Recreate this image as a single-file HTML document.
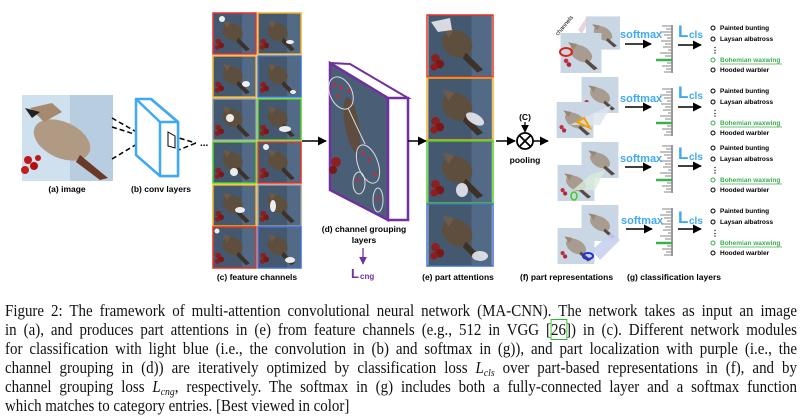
<!DOCTYPE html>
<html><head><meta charset="utf-8"><style>
html,body{margin:0;padding:0;background:#fff;}
body{width:805px;height:416px;position:relative;overflow:hidden;}
svg{position:absolute;left:0;top:0;}
.cap{position:absolute;left:5px;width:900px;transform:scaleX(0.88);transform-origin:0 0;font-family:"Liberation Serif",serif;font-size:17px;line-height:19px;color:#111;text-align:justify;text-align-last:justify;white-space:nowrap;}
.cap i{font-style:italic;}
.cap sub{font-size:11px;vertical-align:-3px;line-height:0;}
</style></head><body>
<svg width="805" height="290" viewBox="0 0 805 290" font-family="Liberation Sans, sans-serif">
<defs>
<symbol id="bd" viewBox="0 0 44 43">
<rect width="44" height="43" fill="#44596f"/>
<rect x="30" y="0" width="14" height="43" fill="#526a86"/>
<ellipse cx="20" cy="20" rx="11" ry="9" fill="#5e4e3e" transform="rotate(30 20 20)"/>
<path d="M10 8 L18 10 L14 16 Z" fill="#6e5a48"/>
<path d="M26 26 L38 38 L34 40 L24 30 Z" fill="#3e3128"/>
<circle cx="5" cy="30" r="3" fill="#8a2020"/><circle cx="8" cy="34" r="3" fill="#7a1818"/><circle cx="4" cy="36" r="2.5" fill="#901c1c"/>
</symbol>
<symbol id="bl" viewBox="0 0 44 43">
<rect width="44" height="43" fill="#c9d6e4"/>
<ellipse cx="22" cy="22" rx="13" ry="8" fill="#a89c90" transform="rotate(30 22 22)"/>
<path d="M8 10 L18 12 L14 18 Z" fill="#9b8674"/>
<path d="M28 28 L40 38 L36 40 L26 31 Z" fill="#5a4a40"/>
<circle cx="6" cy="30" r="2.5" fill="#c03040"/><circle cx="9" cy="34" r="2.5" fill="#b02838"/>
</symbol>
<marker id="ah" viewBox="0 0 10 10" refX="9" refY="5" markerWidth="6" markerHeight="6" orient="auto"><path d="M0 0 L10 5 L0 10 Z" fill="#000"/></marker>
<marker id="ap" viewBox="0 0 10 10" refX="9" refY="5" markerWidth="6" markerHeight="6" orient="auto"><path d="M0 0 L10 5 L0 10 Z" fill="#7030a0"/></marker>
</defs>

<rect x="22" y="95" width="91" height="86" fill="#cfe0ef"/>
<rect x="70" y="95" width="43" height="86" fill="#b8cde0"/>
<ellipse cx="62" cy="140" rx="30" ry="18" fill="#b09a84" transform="rotate(25 62 140)"/>
<path d="M30 108 L52 103 L62 112 L44 122 Z" fill="#a58a70"/>
<path d="M25 108 L40 112 L32 118 Z" fill="#222"/>
<path d="M80 155 L108 178 L100 180 L76 162 Z" fill="#6a3a28"/>
<circle cx="28" cy="160" r="4" fill="#c01818"/><circle cx="34" cy="166" r="4" fill="#b01010"/><circle cx="25" cy="170" r="4" fill="#c02020"/><circle cx="38" cy="158" r="3" fill="#c01818"/>
<text x="67" y="192" font-size="8.5" font-weight="bold" text-anchor="middle">(a) image</text>

<g stroke="#000" stroke-width="1.5" stroke-dasharray="5,3" fill="none">
<line x1="112" y1="118" x2="147" y2="138"/><line x1="112" y1="127" x2="147" y2="138"/><line x1="112" y1="159" x2="147" y2="138"/>
<line x1="172" y1="136" x2="196" y2="143"/><line x1="176" y1="151" x2="196" y2="143"/>
</g>
<g stroke="#3fa9f5" stroke-width="2.5" fill="#fff" stroke-linejoin="round">
<polygon points="136,99 151,99 178,122 178,176 160,176 136,155"/>
<polygon points="160,122 178,122 178,176 160,176"/>
<line x1="151" y1="99" x2="178" y2="122"/><line x1="136" y1="99" x2="160" y2="122"/>
</g>
<polygon points="168,132 175,136 175,148 168,146" fill="none" stroke="#000" stroke-width="1"/>
<text x="200" y="146" font-size="10" font-weight="bold">...</text>
<text x="161" y="192" font-size="8.5" font-weight="bold" text-anchor="middle">(b) conv layers</text>

<g stroke-width="1.5" fill="none">
<use href="#bd" x="213" y="13" width="43" height="41"/><rect x="213" y="13" width="43" height="41" stroke="#e83030"/>
<use href="#bd" x="258" y="13" width="43" height="41"/><rect x="258" y="13" width="43" height="41" stroke="#f0b020"/>
<use href="#bd" x="213" y="56" width="43" height="41"/><rect x="213" y="56" width="43" height="41" stroke="#f0b020"/>
<use href="#bd" x="258" y="56" width="43" height="41"/><rect x="258" y="56" width="43" height="41" stroke="#4070d0"/>
<use href="#bd" x="213" y="99" width="43" height="41"/><rect x="213" y="99" width="43" height="41" stroke="#999"/>
<use href="#bd" x="258" y="99" width="43" height="41"/><rect x="258" y="99" width="43" height="41" stroke="#50d020"/>
<use href="#bd" x="213" y="142" width="43" height="41"/><rect x="213" y="142" width="43" height="41" stroke="#50d020"/>
<use href="#bd" x="258" y="142" width="43" height="41"/><rect x="258" y="142" width="43" height="41" stroke="#e83020"/>
<use href="#bd" x="213" y="185" width="43" height="41"/><rect x="213" y="185" width="43" height="41" stroke="#f0b020"/>
<use href="#bd" x="258" y="185" width="43" height="41"/><rect x="258" y="185" width="43" height="41" stroke="#999"/>
<use href="#bd" x="213" y="227" width="43" height="41"/><rect x="213" y="227" width="43" height="41" stroke="#e83020"/>
<use href="#bd" x="258" y="227" width="43" height="41"/><rect x="258" y="227" width="43" height="41" stroke="#4070d0"/>
</g>
<g fill="#fff" opacity="0.9">
<circle cx="222" cy="19" r="3"/><ellipse cx="290" cy="42" rx="4" ry="2"/><ellipse cx="246" cy="84" rx="4" ry="3"/><ellipse cx="293" cy="92" rx="3" ry="2"/>
<ellipse cx="230" cy="118" rx="4" ry="4"/><ellipse cx="285" cy="129" rx="6" ry="3"/><ellipse cx="234" cy="172" rx="4" ry="4"/><circle cx="266" cy="147" r="3"/>
<ellipse cx="240" cy="210" rx="5" ry="3"/><ellipse cx="273" cy="206" rx="3" ry="6"/><circle cx="217" cy="231" r="2.5"/><ellipse cx="290" cy="260" rx="5" ry="3"/>
</g>
<text x="257" y="280" font-size="8.5" font-weight="bold" text-anchor="middle">(c) feature channels</text>

<line x1="302" y1="141" x2="326" y2="141" stroke="#000" stroke-width="1.5" marker-end="url(#ah)"/>

<polygon points="330,63 350,64 408,98 388,98" fill="#fff" stroke="#7030a0" stroke-width="2"/>
<polygon points="330,63 388,98 388,220 330,190" fill="#4a5f76" stroke="#7030a0" stroke-width="2.5"/>
<ellipse cx="352" cy="125" rx="7" ry="28" fill="#5e4c3e" transform="rotate(-10 352 125)"/>
<circle cx="336" cy="162" r="5" fill="#8a2020"/><circle cx="333" cy="170" r="4" fill="#7a1818"/>
<g fill="none" stroke="#ddd" stroke-width="1">
<ellipse cx="341" cy="93" rx="11" ry="17" transform="rotate(-25 341 93)"/>
<ellipse cx="368" cy="164" rx="10" ry="20" transform="rotate(-20 368 164)"/>
<ellipse cx="359" cy="183" rx="6" ry="11"/>
<ellipse cx="378" cy="200" rx="5" ry="12"/>
<line x1="348" y1="108" x2="365" y2="144"/>
</g>
<g fill="#e02020"><circle cx="335" cy="85" r="1.5"/><circle cx="341" cy="88" r="1.5"/><circle cx="349" cy="91" r="1.5"/><circle cx="338" cy="96" r="1.5"/><circle cx="363" cy="153" r="1.5"/><circle cx="369" cy="160" r="1.5"/><circle cx="375" cy="174" r="1.5"/><circle cx="358" cy="180" r="1.5"/><circle cx="378" cy="198" r="1.5"/></g>
<polygon points="388,98 408,98 408,220 388,220" fill="#fff" stroke="#7030a0" stroke-width="2.5"/>
<text x="364" y="232" font-size="8.5" font-weight="bold" text-anchor="middle">(d) channel grouping</text>
<text x="364" y="243" font-size="8.5" font-weight="bold" text-anchor="middle">layers</text>
<line x1="363" y1="248" x2="363" y2="264" stroke="#7030a0" stroke-width="1.3" marker-end="url(#ap)"/>
<text x="351" y="278" font-size="13" font-weight="bold" fill="#7030a0">L</text><text x="360" y="279" font-size="8" font-weight="bold" fill="#7030a0">cng</text>

<line x1="408" y1="141" x2="426" y2="141" stroke="#000" stroke-width="1.5" marker-end="url(#ah)"/>

<g stroke-width="1.5" fill="none">
<use href="#bd" x="427" y="15" width="66" height="62"/><rect x="427" y="15" width="66" height="62" stroke="#e83020"/>
<use href="#bd" x="427" y="78" width="66" height="62"/><rect x="427" y="78" width="66" height="62" stroke="#f0b020"/>
<use href="#bd" x="427" y="141" width="66" height="62"/><rect x="427" y="141" width="66" height="62" stroke="#50d020"/>
<use href="#bd" x="427" y="204" width="66" height="62"/><rect x="427" y="204" width="66" height="62" stroke="#4070d0"/>
</g>
<g fill="#e8e8f0" opacity="0.9"><path d="M431 22 L450 18 L452 30 L438 32 Z"/><ellipse cx="475" cy="119" rx="10" ry="5" transform="rotate(30 475 119)"/><ellipse cx="462" cy="190" rx="6" ry="7"/><ellipse cx="480" cy="256" rx="8" ry="5"/></g>
<text x="458" y="280" font-size="8.5" font-weight="bold" text-anchor="middle">(e) part attentions</text>

<line x1="496" y1="141" x2="515" y2="141" stroke="#000" stroke-width="1.5" marker-end="url(#ah)"/>
<text x="525" y="120" font-size="8.5" font-weight="bold" text-anchor="middle">(C)</text>
<line x1="525" y1="122" x2="525" y2="132" stroke="#000" stroke-width="1.3" marker-end="url(#ah)"/>
<circle cx="525" cy="141" r="8" fill="#fff" stroke="#000" stroke-width="1.8"/>
<line x1="519.5" y1="135.5" x2="530.5" y2="146.5" stroke="#000" stroke-width="1.8"/><line x1="530.5" y1="135.5" x2="519.5" y2="146.5" stroke="#000" stroke-width="1.8"/>
<line x1="533" y1="141" x2="548" y2="141" stroke="#000" stroke-width="1.5" marker-end="url(#ah)"/>
<text x="525" y="163" font-size="8.5" font-weight="bold" text-anchor="middle">pooling</text>

<use href="#bl" x="586" y="15" width="34" height="36"/>
<polygon points="578,30 586,18 590,18 582,34" fill="#e0c8d8" opacity="0.8"/>
<use href="#bl" x="558" y="33" width="46" height="40"/>
<ellipse cx="566" cy="52" rx="6" ry="4" fill="none" stroke="#e02010" stroke-width="2"/>
<text x="558" y="36" font-size="6" transform="rotate(-50 558 36)">channels</text>
<use href="#bl" x="580" y="77" width="40" height="36"/><use href="#bl" x="555" y="102" width="40" height="36"/>
<polygon points="570,125 585,117 612,105 600,125" fill="#dde4ee" opacity="0.8"/>
<polygon points="577,122 584,118 590,128" fill="none" stroke="#f0a000" stroke-width="2"/>
<use href="#bl" x="580" y="142" width="40" height="36"/><use href="#bl" x="556" y="165" width="40" height="36"/>
<polygon points="573,190 590,175 605,170 595,190" fill="#d8ecd8" opacity="0.8"/>
<ellipse cx="574" cy="196" rx="3" ry="4" fill="none" stroke="#40d020" stroke-width="1.5"/>
<use href="#bl" x="580" y="205" width="40" height="36"/><use href="#bl" x="556" y="228" width="40" height="36"/>
<polygon points="592,250 612,232 620,240 600,260" fill="#c8d0f0" opacity="0.9"/>
<ellipse cx="588" cy="256" rx="5" ry="3" fill="none" stroke="#2030e0" stroke-width="2"/>

<g font-size="11" font-weight="bold" fill="#3fa9f5">
<text x="620" y="38">softmax</text><text x="620" y="102">softmax</text><text x="620" y="162">softmax</text><text x="621" y="224">softmax</text>
</g>
<g stroke="#000" stroke-width="1.5" marker-end="url(#ah)">
<line x1="625" y1="44" x2="651" y2="44"/><line x1="625" y1="107" x2="651" y2="107"/><line x1="625" y1="167" x2="651" y2="167"/><line x1="626" y1="229" x2="652" y2="229"/>
<line x1="678" y1="45" x2="701" y2="45"/><line x1="678" y1="107" x2="701" y2="107"/><line x1="678" y1="166" x2="701" y2="166"/><line x1="678" y1="229" x2="701" y2="229"/>
</g>
<g fill="#3fa9f5" font-weight="bold">
<text x="678" y="37" font-size="17">L</text><text x="689" y="38" font-size="10">cls</text>
<text x="678" y="98" font-size="17">L</text><text x="689" y="99" font-size="10">cls</text>
<text x="678" y="159" font-size="17">L</text><text x="689" y="160" font-size="10">cls</text>
<text x="678" y="223" font-size="17">L</text><text x="689" y="224" font-size="10">cls</text>
</g>
<g id="h1">
<line x1="672" y1="25" x2="672" y2="73" stroke="#333" stroke-width="1"/>
<g stroke="#999" stroke-width="1.2">
<line x1="662" y1="26" x2="672" y2="26"/><line x1="666" y1="29" x2="672" y2="29"/><line x1="660" y1="32" x2="672" y2="32"/><line x1="664" y1="35" x2="672" y2="35"/><line x1="667" y1="38" x2="672" y2="38"/><line x1="661" y1="41" x2="672" y2="41"/><line x1="665" y1="44" x2="672" y2="44"/><line x1="663" y1="47" x2="672" y2="47"/><line x1="668" y1="50" x2="672" y2="50"/><line x1="660" y1="53" x2="672" y2="53"/><line x1="665" y1="56" x2="672" y2="56"/><line x1="667" y1="63" x2="672" y2="63"/><line x1="662" y1="66" x2="672" y2="66"/><line x1="666" y1="69" x2="672" y2="69"/><line x1="664" y1="72" x2="672" y2="72"/>
</g>
<line x1="656" y1="60" x2="672" y2="60" stroke="#3cb050" stroke-width="2.5"/>
</g>
<use href="#h1" y="63"/><use href="#h1" y="120"/><use href="#h1" y="183"/>
<g id="cl" font-size="6.5" font-weight="bold">
<circle cx="713" cy="28" r="2" fill="none" stroke="#000" stroke-width="1"/><text x="720" y="30">Painted bunting</text>
<circle cx="713" cy="39" r="2" fill="none" stroke="#000" stroke-width="1"/><text x="720" y="41">Laysan albatross</text>
<text x="711" y="53" font-size="8">⋮</text>
<circle cx="713" cy="60" r="2" fill="none" stroke="#3cb050" stroke-width="1"/><text x="720" y="62" fill="#3cb050">Bohemian waxwing</text>
<line x1="720" y1="64" x2="782" y2="64" stroke="#3cb050" stroke-width="0.8"/>
<circle cx="713" cy="70" r="2" fill="none" stroke="#000" stroke-width="1"/><text x="720" y="72">Hooded warbler</text>
</g>
<use href="#cl" y="63"/><use href="#cl" y="120"/><use href="#cl" y="183"/>
<text x="520" y="280" font-size="8.5" font-weight="bold">(f) part representations</text>
<text x="627" y="280" font-size="8.5" font-weight="bold">(g) classification layers</text>
</svg>

<div class="cap" style="top:301px">Figure 2: The framework of multi-attention convolutional neural network (MA-CNN). The network takes as input an image</div>
<div class="cap" style="top:320px">in (a), and produces part attentions in (e) from feature channels (e.g., 512 in VGG [<span style="outline:1px solid #20c020">26</span>]) in (c). Different network modules</div>
<div class="cap" style="top:339px">for classification with light blue (i.e., the convolution in (b) and softmax in (g)), and part localization with purple (i.e., the</div>
<div class="cap" style="top:358px">channel grouping in (d)) are iteratively optimized by classification loss <i>L<sub>cls</sub></i> over part-based representations in (f), and by</div>
<div class="cap" style="top:377px">channel grouping loss <i>L<sub>cng</sub></i>, respectively. The softmax in (g) includes both a fully-connected layer and a softmax function</div>
<div class="cap" style="top:396px;width:auto;text-align-last:auto">which matches to category entries. [Best viewed in color]</div>
</body></html>
